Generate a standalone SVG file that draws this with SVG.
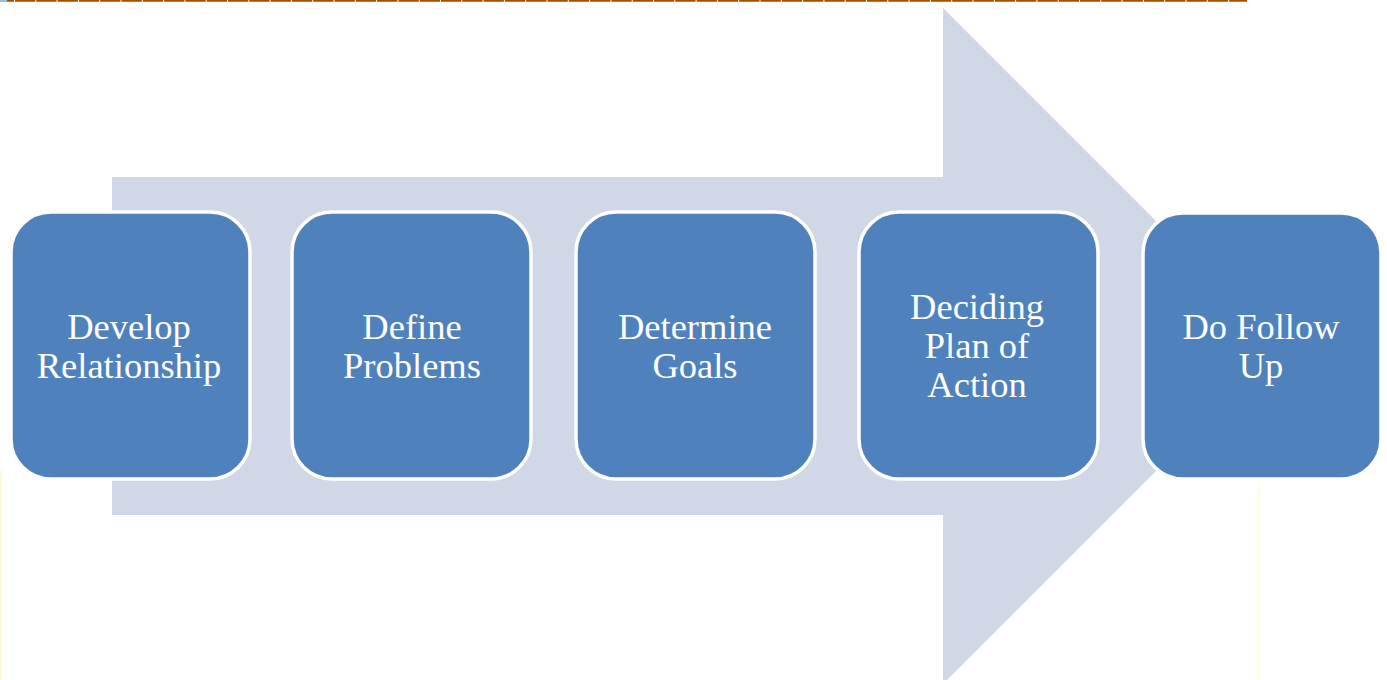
<svg xmlns="http://www.w3.org/2000/svg" width="1387" height="680" viewBox="0 0 1387 680">
  <style>
    .step rect { fill: #4f81bd; stroke: #ffffff; stroke-width: 3.5; }
    .step text { fill: #ffffff; font-family: "Liberation Serif", "Times New Roman", serif; font-size: 36.5px; text-anchor: middle; }
  </style>
  <rect x="0" y="0" width="1387" height="680" fill="#ffffff"/>
  <!-- rule along the top edge -->
  <line x1="0" y1="0.8" x2="1247" y2="0.8" stroke="#a04f04" stroke-width="1.8" stroke-dasharray="20.3 1" stroke-dashoffset="-15"/>
  <rect x="0" y="0" width="7" height="2" fill="#9db9dc"/>
  <!-- faint frame lines -->
  <line x1="1" y1="470" x2="1" y2="680" stroke="#fffbd6" stroke-width="2"/>
  <line x1="1259" y1="483" x2="1259" y2="680" stroke="#fffbcc" stroke-width="1.2"/>

  <!-- background process arrow -->
  <g id="process-arrow">
    <polygon points="112,177 943,177 943,8 1281,346 943,684 943,515 112,515" fill="#d0d8e8"/>
  </g>

  <g id="connectors"></g>

  <g id="step1" class="step">
    <rect x="11" y="212" width="239" height="267" rx="40" ry="40"/>
    <text x="129" y="339">Develop</text>
    <text x="129" y="378">Relationship</text>
  </g>
  <g id="step2" class="step">
    <rect x="292" y="212" width="239" height="267" rx="40" ry="40"/>
    <text x="412" y="339">Define</text>
    <text x="412" y="378">Problems</text>
  </g>
  <g id="step3" class="step">
    <rect x="576" y="212" width="239" height="267" rx="40" ry="40"/>
    <text x="695" y="339">Determine</text>
    <text x="695" y="378">Goals</text>
  </g>
  <g id="step4" class="step">
    <rect x="859" y="212" width="239" height="267" rx="40" ry="40"/>
    <text x="977" y="319">Deciding</text>
    <text x="977" y="358">Plan of</text>
    <text x="977" y="397">Action</text>
  </g>
  <g id="step5" class="step">
    <rect x="1143" y="213" width="238" height="266" rx="40" ry="40"/>
    <text x="1261" y="339">Do Follow</text>
    <text x="1261" y="378">Up</text>
  </g>
</svg>
